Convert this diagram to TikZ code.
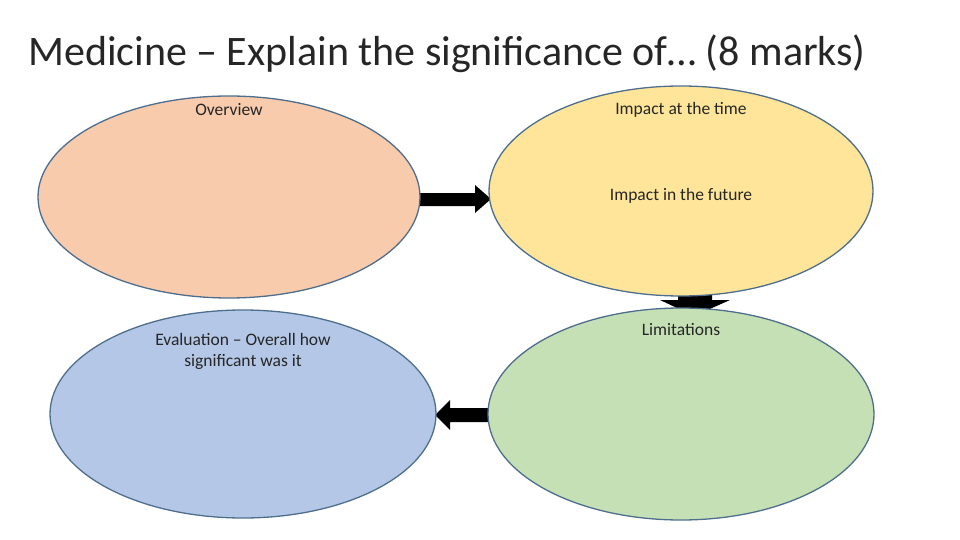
\documentclass[tikz,border=0pt]{standalone}
\usepackage{fontspec}
\setmainfont{Carlito}
\begin{document}
\begin{tikzpicture}[x=1pt,y=-1pt,
  ell/.style={draw=edge,line width=1.3pt},
  lbl/.style={font=\fontsize{17.5}{21}\selectfont,align=center,text=black!85},
  arr/.style={fill=black}]
\definecolor{edge}{HTML}{4E6E8E}
\definecolor{cO}{HTML}{F7CBAC}
\definecolor{cY}{HTML}{FEE599}
\definecolor{cB}{HTML}{B4C7E7}
\definecolor{cG}{HTML}{C5E0B4}
\useasboundingbox (0,0) rectangle (960,540);
\node[anchor=base west,inner sep=0,font=\fontsize{42}{48}\selectfont,text=black!85] (title) at (28,66) {Medicine -- Explain the significance of… (8 marks)};
% arrows
\fill[arr] (420,193) -- (475,193) -- (475,185) -- (491,199) -- (475,213) -- (475,206) -- (420,206) -- cycle;
\fill[arr] (492,408) -- (450,408) -- (450,400) -- (435,415) -- (450,430) -- (450,422) -- (492,422) -- cycle;
\fill[arr] (678,280) -- (712,280) -- (712,300) -- (730,300) -- (694,316) -- (660,300) -- (678,300) -- cycle;
\path[ell,fill=cO] (229,197) ellipse [x radius=191, y radius=101];
\path[ell,fill=cY] (681,191) ellipse [x radius=192, y radius=105];
\path[ell,fill=cB] (243,414) ellipse [x radius=193, y radius=104];
\path[ell,fill=cG] (681,414) ellipse [x radius=193, y radius=106];
\node[lbl] (ov) at (229,110) {Overview};
\node[lbl] (it) at (681,110) {Impact at the time};
\node[lbl] (if) at (681,196) {Impact in the future};
\node[lbl] (li) at (681,330) {Limitations};
\node[lbl] (ev) at (243,351) {Evaluation -- Overall how\\significant was it};
\end{tikzpicture}
\end{document}
